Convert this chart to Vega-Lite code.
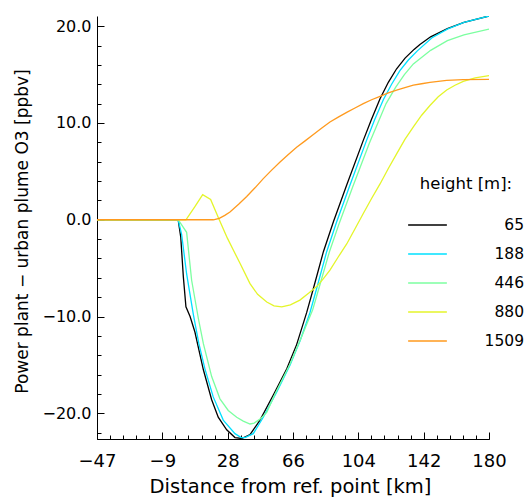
{
  "$schema": "https://vega.github.io/schema/vega-lite/v6.json",
  "width": 392,
  "height": 423,
  "autosize": {"type": "none"},
  "padding": {"left": 97, "top": 16, "right": 39, "bottom": 59},
  "background": "white",
  "config": {
    "view": {"stroke": null},
    "font": "DejaVu Sans",
    "axis": {
      "domainColor": "#000000",
      "tickColor": "#000000",
      "labelColor": "#000000",
      "titleColor": "#000000",
      "labelFont": "DejaVu Sans",
      "titleFont": "DejaVu Sans",
      "titleFontWeight": "normal",
      "grid": false,
      "domainWidth": 1,
      "tickWidth": 1
    },
    "legend": {
      "labelFont": "DejaVu Sans",
      "titleFont": "DejaVu Sans",
      "titleFontWeight": "normal",
      "labelColor": "#000000",
      "titleColor": "#000000"
    }
  },
  "data": {
    "values": [
      {"h": "65", "d": -47, "v": 0},
      {"h": "65", "d": 0, "v": 0},
      {"h": "65", "d": 1.5, "v": -1.8},
      {"h": "65", "d": 3.0, "v": -5.9},
      {"h": "65", "d": 4.5, "v": -9.0},
      {"h": "65", "d": 6.9, "v": -10.0},
      {"h": "65", "d": 9.7, "v": -11.6},
      {"h": "65", "d": 14.6, "v": -15.5},
      {"h": "65", "d": 19.4, "v": -18.6},
      {"h": "65", "d": 23.2, "v": -20.4},
      {"h": "65", "d": 28.1, "v": -21.7},
      {"h": "65", "d": 32.9, "v": -22.5},
      {"h": "65", "d": 36.8, "v": -22.6},
      {"h": "65", "d": 41.6, "v": -22.2},
      {"h": "65", "d": 47.4, "v": -20.7},
      {"h": "65", "d": 55.1, "v": -18.1},
      {"h": "65", "d": 62.9, "v": -15.4},
      {"h": "65", "d": 68.6, "v": -12.9},
      {"h": "65", "d": 74.4, "v": -9.6},
      {"h": "65", "d": 78.3, "v": -7.1},
      {"h": "65", "d": 84.1, "v": -3.3},
      {"h": "65", "d": 89.9, "v": -0.2},
      {"h": "65", "d": 97.6, "v": 3.6},
      {"h": "65", "d": 107.2, "v": 8.2},
      {"h": "65", "d": 111.8, "v": 10.3},
      {"h": "65", "d": 116.9, "v": 12.5},
      {"h": "65", "d": 121.7, "v": 14.2},
      {"h": "65", "d": 126.5, "v": 15.6},
      {"h": "65", "d": 131.4, "v": 16.7},
      {"h": "65", "d": 136.6, "v": 17.6},
      {"h": "65", "d": 140.0, "v": 18.1},
      {"h": "65", "d": 146.2, "v": 18.9},
      {"h": "65", "d": 155.9, "v": 19.75},
      {"h": "65", "d": 165.5, "v": 20.4},
      {"h": "65", "d": 180, "v": 21.05},

      {"h": "188", "d": -47, "v": 0},
      {"h": "188", "d": 0, "v": 0},
      {"h": "188", "d": 2.0, "v": -1.5},
      {"h": "188", "d": 4.9, "v": -5.6},
      {"h": "188", "d": 8.8, "v": -9.8},
      {"h": "188", "d": 12.0, "v": -12.8},
      {"h": "188", "d": 15.5, "v": -15.4},
      {"h": "188", "d": 20.3, "v": -18.3},
      {"h": "188", "d": 26.1, "v": -20.7},
      {"h": "188", "d": 32.9, "v": -22.1},
      {"h": "188", "d": 36.5, "v": -22.5},
      {"h": "188", "d": 38.7, "v": -22.5},
      {"h": "188", "d": 43.5, "v": -22.1},
      {"h": "188", "d": 49.3, "v": -20.4},
      {"h": "188", "d": 57.1, "v": -17.8},
      {"h": "188", "d": 64.8, "v": -15.0},
      {"h": "188", "d": 70.6, "v": -12.5},
      {"h": "188", "d": 76.3, "v": -9.6},
      {"h": "188", "d": 80.2, "v": -7.1},
      {"h": "188", "d": 86.0, "v": -3.3},
      {"h": "188", "d": 91.8, "v": -0.2},
      {"h": "188", "d": 99.5, "v": 3.6},
      {"h": "188", "d": 109.1, "v": 8.2},
      {"h": "188", "d": 113.7, "v": 10.3},
      {"h": "188", "d": 118.8, "v": 12.4},
      {"h": "188", "d": 123.6, "v": 14.0},
      {"h": "188", "d": 128.4, "v": 15.4},
      {"h": "188", "d": 133.3, "v": 16.5},
      {"h": "188", "d": 138.5, "v": 17.45},
      {"h": "188", "d": 147.0, "v": 18.8},
      {"h": "188", "d": 155.9, "v": 19.7},
      {"h": "188", "d": 165.5, "v": 20.4},
      {"h": "188", "d": 180, "v": 21.05},

      {"h": "446", "d": -47, "v": 0},
      {"h": "446", "d": 0, "v": 0},
      {"h": "446", "d": 4.9, "v": -1.3},
      {"h": "446", "d": 7.8, "v": -6.25},
      {"h": "446", "d": 11.7, "v": -10.2},
      {"h": "446", "d": 14.6, "v": -12.8},
      {"h": "446", "d": 19.4, "v": -16.2},
      {"h": "446", "d": 24.2, "v": -18.5},
      {"h": "446", "d": 29.0, "v": -19.7},
      {"h": "446", "d": 33.9, "v": -20.4},
      {"h": "446", "d": 37.7, "v": -20.8},
      {"h": "446", "d": 41.6, "v": -21.1},
      {"h": "446", "d": 44.0, "v": -21.0},
      {"h": "446", "d": 47.4, "v": -20.6},
      {"h": "446", "d": 51.3, "v": -19.9},
      {"h": "446", "d": 56.1, "v": -18.0},
      {"h": "446", "d": 64.8, "v": -14.9},
      {"h": "446", "d": 71.0, "v": -12.3},
      {"h": "446", "d": 77.9, "v": -9.3},
      {"h": "446", "d": 81.8, "v": -6.9},
      {"h": "446", "d": 87.6, "v": -3.3},
      {"h": "446", "d": 93.4, "v": -0.3},
      {"h": "446", "d": 101.1, "v": 3.4},
      {"h": "446", "d": 110.7, "v": 7.9},
      {"h": "446", "d": 120.4, "v": 12.0},
      {"h": "446", "d": 126.0, "v": 13.7},
      {"h": "446", "d": 131.0, "v": 15.0},
      {"h": "446", "d": 136.2, "v": 16.1},
      {"h": "446", "d": 146.2, "v": 17.5},
      {"h": "446", "d": 155.9, "v": 18.5},
      {"h": "446", "d": 165.5, "v": 19.1},
      {"h": "446", "d": 180, "v": 19.7},

      {"h": "880", "d": -47, "v": 0},
      {"h": "880", "d": 4.5, "v": 0},
      {"h": "880", "d": 9.5, "v": 1.3},
      {"h": "880", "d": 14.2, "v": 2.6},
      {"h": "880", "d": 18.8, "v": 2.1},
      {"h": "880", "d": 23.8, "v": 0},
      {"h": "880", "d": 28.5, "v": -1.9},
      {"h": "880", "d": 32.0, "v": -3.15},
      {"h": "880", "d": 35.8, "v": -4.5},
      {"h": "880", "d": 41.6, "v": -6.6},
      {"h": "880", "d": 46.0, "v": -7.7},
      {"h": "880", "d": 51.3, "v": -8.5},
      {"h": "880", "d": 55.5, "v": -8.9},
      {"h": "880", "d": 60.0, "v": -9.0},
      {"h": "880", "d": 65.0, "v": -8.8},
      {"h": "880", "d": 70.5, "v": -8.3},
      {"h": "880", "d": 75.5, "v": -7.6},
      {"h": "880", "d": 80.2, "v": -6.9},
      {"h": "880", "d": 84.0, "v": -6.1},
      {"h": "880", "d": 87.9, "v": -5.2},
      {"h": "880", "d": 92.5, "v": -3.9},
      {"h": "880", "d": 97.6, "v": -2.5},
      {"h": "880", "d": 102.5, "v": -0.9},
      {"h": "880", "d": 107.2, "v": 0.64},
      {"h": "880", "d": 112.0, "v": 2.2},
      {"h": "880", "d": 116.9, "v": 3.7},
      {"h": "880", "d": 121.7, "v": 5.3},
      {"h": "880", "d": 126.5, "v": 6.8},
      {"h": "880", "d": 131.3, "v": 8.3},
      {"h": "880", "d": 136.2, "v": 9.6},
      {"h": "880", "d": 141.0, "v": 10.8},
      {"h": "880", "d": 145.8, "v": 11.8},
      {"h": "880", "d": 150.6, "v": 12.7},
      {"h": "880", "d": 155.5, "v": 13.4},
      {"h": "880", "d": 160.3, "v": 13.9},
      {"h": "880", "d": 165.1, "v": 14.3},
      {"h": "880", "d": 172.0, "v": 14.65},
      {"h": "880", "d": 180, "v": 14.9},

      {"h": "1509", "d": -47, "v": 0},
      {"h": "1509", "d": 20.4, "v": 0},
      {"h": "1509", "d": 23.8, "v": 0.15},
      {"h": "1509", "d": 27.0, "v": 0.45},
      {"h": "1509", "d": 30.0, "v": 0.8},
      {"h": "1509", "d": 35.0, "v": 1.6},
      {"h": "1509", "d": 39.7, "v": 2.4},
      {"h": "1509", "d": 44.5, "v": 3.3},
      {"h": "1509", "d": 49.3, "v": 4.25},
      {"h": "1509", "d": 54.0, "v": 5.1},
      {"h": "1509", "d": 59.0, "v": 5.97},
      {"h": "1509", "d": 63.8, "v": 6.75},
      {"h": "1509", "d": 68.6, "v": 7.5},
      {"h": "1509", "d": 73.5, "v": 8.15},
      {"h": "1509", "d": 78.3, "v": 8.8},
      {"h": "1509", "d": 83.0, "v": 9.45},
      {"h": "1509", "d": 87.9, "v": 10.1},
      {"h": "1509", "d": 92.7, "v": 10.6},
      {"h": "1509", "d": 97.6, "v": 11.1},
      {"h": "1509", "d": 102.4, "v": 11.55},
      {"h": "1509", "d": 107.2, "v": 12.0},
      {"h": "1509", "d": 112.0, "v": 12.4},
      {"h": "1509", "d": 116.9, "v": 12.75},
      {"h": "1509", "d": 121.7, "v": 13.1},
      {"h": "1509", "d": 126.5, "v": 13.4},
      {"h": "1509", "d": 131.3, "v": 13.65},
      {"h": "1509", "d": 136.2, "v": 13.9},
      {"h": "1509", "d": 141.0, "v": 14.05},
      {"h": "1509", "d": 145.8, "v": 14.2},
      {"h": "1509", "d": 150.6, "v": 14.3},
      {"h": "1509", "d": 155.5, "v": 14.4},
      {"h": "1509", "d": 165.0, "v": 14.48},
      {"h": "1509", "d": 180, "v": 14.5}
    ]
  },
  "layer": [
    {
      "mark": {"type": "line", "strokeWidth": 1.3, "clip": true},
      "encoding": {
        "x": {
          "field": "d", "type": "quantitative",
          "scale": {"domain": [-47, 180], "nice": false, "zero": false},
          "axis": {
            "orient": "bottom",
            "values": [-47, -9.166667, 28.666667, 66.5, 104.333333, 142.166667, 180],
            "labelExpr": "datum.value < 0 ? '\u2212' + floor(-datum.value + 0.000001) : '' + floor(datum.value + 0.000001)",
            "tickSize": -7,
            "labelPadding": 20,
            "labelFontSize": 18,
            "labelFlush": false,
            "labelOverlap": false,
            "title": "Distance from ref. point [km]",
            "titleFontSize": 19.5,
            "titleX": 193,
            "titleY": 53,
            "titleAlign": "center",
            "titleBaseline": "alphabetic"
          }
        },
        "y": {
          "field": "v", "type": "quantitative",
          "scale": {"domain": [-22.65, 21.05], "nice": false, "zero": false},
          "axis": {
            "orient": "left",
            "values": [-20, -10, 0, 10, 20],
            "format": ".1f",
            "tickSize": -7,
            "labelPadding": 13,
            "labelFontSize": 16,
            "labelFlush": false,
            "labelOverlap": false,
            "title": "Power plant \u2212 urban plume O3 [ppbv]",
            "titleFontSize": 17,
            "titleAngle": -90,
            "titleX": -75,
            "titleY": 215,
            "titleAlign": "center",
            "titleBaseline": "middle"
          }
        },
        "stroke": {
          "field": "h", "type": "nominal",
          "scale": {
            "domain": ["65", "188", "446", "880", "1509"],
            "range": ["#000000", "#00E0FF", "#7CFFA0", "#E4F52A", "#FF9A1E"]
          },
          "legend": {
            "orient": "none",
            "legendX": 310,
            "legendY": 160,
            "direction": "vertical",
            "title": "height [m]:",
            "titleFontSize": 16.5,
            "titleAnchor": "middle",
            "titlePadding": 12,
            "symbolType": "stroke",
            "symbolSize": 1500,
            "symbolStrokeWidth": 1.5,
            "labelAlign": "right",
            "labelOffset": 76,
            "labelFontSize": 15.5,
            "rowPadding": -8
          }
        }
      }
    },
    {
      "mark": {"type": "point", "opacity": 0},
      "encoding": {
        "x": {
          "field": "d", "type": "quantitative",
          "axis": {
            "orient": "bottom",
            "values": [-47, -39.433333, -31.866667, -24.3, -16.733333, -9.166667, -1.6, 5.966667, 13.533333, 21.1, 28.666667, 36.233333, 43.8, 51.366667, 58.933333, 66.5, 74.066667, 81.633333, 89.2, 96.766667, 104.333333, 111.9, 119.466667, 127.033333, 134.6, 142.166667, 149.733333, 157.3, 164.866667, 172.433333, 180],
            "labels": false,
            "domain": false,
            "tickSize": -4,
            "title": null
          }
        },
        "y": {
          "field": "v", "type": "quantitative",
          "axis": {
            "orient": "left",
            "values": [-22, -20, -18, -16, -14, -12, -10, -8, -6, -4, -2, 0, 2, 4, 6, 8, 10, 12, 14, 16, 18, 20],
            "labels": false,
            "domain": false,
            "tickSize": -4,
            "title": null
          }
        }
      }
    }
  ],
  "resolve": {"axis": {"x": "independent", "y": "independent"}}
}
